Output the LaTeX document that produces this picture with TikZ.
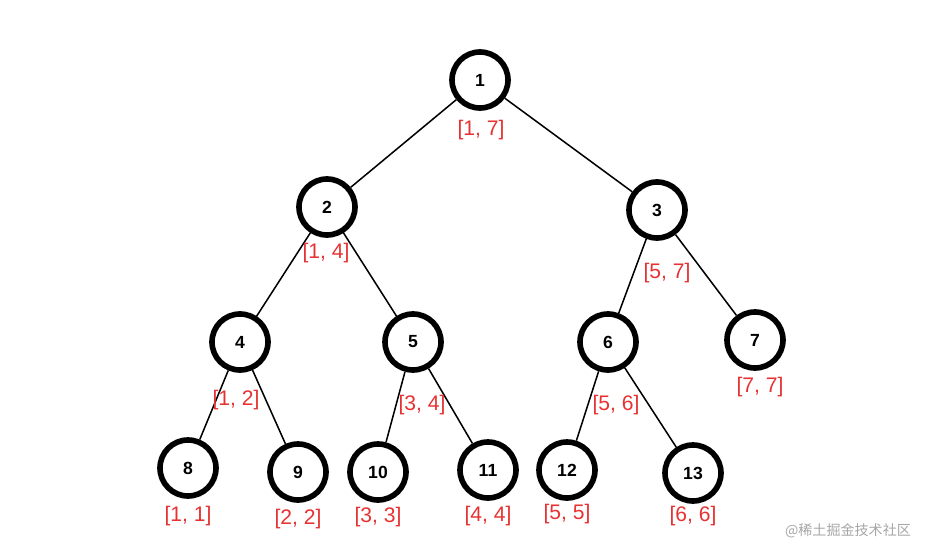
\documentclass[tikz,border=0pt]{standalone}
\usepackage{fontspec}
\setmainfont{Liberation Sans}
\newfontfamily\cjkfont{Noto Sans CJK SC}
\definecolor{lbred}{RGB}{230,50,50}
\begin{document}
\begin{tikzpicture}[x=0.03cm,y=-0.03cm,
  nd/.style={circle,draw=black,line width=4.8pt,minimum size=1.68cm,inner sep=0pt,font=\fontsize{15}{17}\selectfont\bfseries},
  lb/.style={text=lbred,font=\fontsize{18}{20}\selectfont},
  ed/.style={line width=1.3pt}]
\useasboundingbox (0,0) rectangle (945,560);
\node[nd] (n1) at (480,80) {1};
\node[nd] (n2) at (327,207) {2};
\node[nd] (n3) at (657,210) {3};
\node[nd] (n4) at (240,342) {4};
\node[nd] (n5) at (413,342) {5};
\node[nd] (n6) at (608,342) {6};
\node[nd] (n7) at (755,340) {7};
\node[nd] (n8) at (188,468) {8};
\node[nd] (n9) at (298,472) {9};
\node[nd] (n10) at (378,472) {10};
\node[nd] (n11) at (488,470) {11};
\node[nd] (n12) at (567,470) {12};
\node[nd] (n13) at (693,473) {13};
\foreach \a/\b in {n1/n2,n1/n3,n2/n4,n2/n5,n3/n6,n3/n7,n4/n8,n4/n9,n5/n10,n5/n11,n6/n12,n6/n13}
  \draw[ed] (\a) -- (\b);
\node[lb] (l1) at (481,130) {[1, 7]};
\node[lb] (l2) at (326,253) {[1, 4]};
\node[lb] (l3) at (667,273) {[5, 7]};
\node[lb] (l4) at (236,400) {[1, 2]};
\node[lb] (l5) at (422,405) {[3, 4]};
\node[lb] (l6) at (616,405) {[5, 6]};
\node[lb] (l7) at (760,387) {[7, 7]};
\node[lb] (l8) at (188,516) {[1, 1]};
\node[lb] (l9) at (298,519) {[2, 2]};
\node[lb] (l10) at (378,517) {[3, 3]};
\node[lb] (l11) at (488,516) {[4, 4]};
\node[lb] (l12) at (567,514) {[5, 5]};
\node[lb] (l13) at (693,516) {[6, 6]};
\node[text=gray!70,font=\cjkfont\fontsize{12}{14}\selectfont] (wm) at (848,531) {@稀土掘金技术社区};
\end{tikzpicture}
\end{document}
